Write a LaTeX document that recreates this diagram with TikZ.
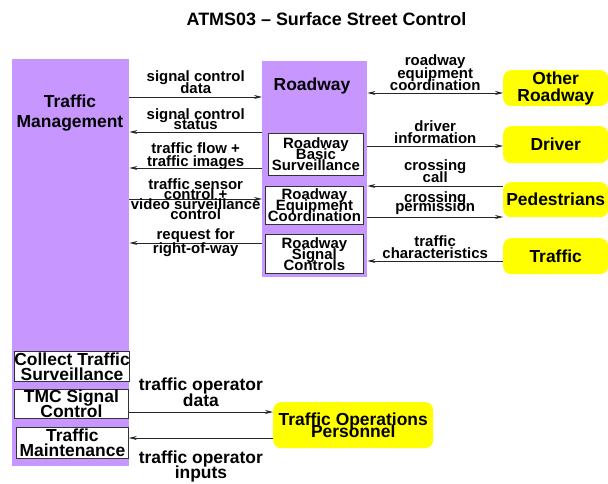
\documentclass[tikz,border=0pt]{standalone}
\usepackage{fontspec}
\setmainfont{Liberation Sans}
\usetikzlibrary{arrows.meta}

\definecolor{sysviolet}{RGB}{200,150,255}
\definecolor{termyellow}{RGB}{255,255,0}

% let stacked lines sit closer than their glyphs allow
\lineskiplimit=-50pt

\tikzset{
	sys/.style={fill=sysviolet, inner sep=0pt, anchor=north west},
	sub/.style={draw=black!80, fill=white, line width=0.8pt, inner sep=0pt, anchor=north west, align=center, font=\bfseries\fontsize{15}{11}\selectfont},
	subbig/.style={sub, font=\bfseries\fontsize{17.5}{15}\selectfont},
	term/.style={fill=termyellow, rounded corners=8bp, inner sep=0pt, anchor=north west, align=center, font=\bfseries\fontsize{17.5}{17}\selectfont},
	flow/.style={draw=black!85, line width=0.8pt, -{Stealth[length=8bp,width=4bp]}},
	lbl/.style={inner sep=0pt, align=center, font=\bfseries\fontsize{15}{12.5}\selectfont},
	lblbig/.style={lbl, font=\bfseries\fontsize{17.5}{15.5}\selectfont},
}

\begin{document}
\begin{tikzpicture}[x=1bp,y=-1bp]
	
	\useasboundingbox (0,0) rectangle (608,484);
	
	\node[font=\bfseries\fontsize{18}{18}\selectfont] (title) at (326.5,19) {ATMS03 -- Surface Street Control};
	
	% subsystems
	\node[sys, minimum width=117bp, minimum height=407bp] (tm) at (12,59) {};
	\node[font=\bfseries\fontsize{17.5}{20}\selectfont, align=center] (tmlbl) at (70,113) {Traffic\\Management};
	\node[sys, minimum width=105bp, minimum height=216bp] (rw) at (262,61) {};
	\node[font=\bfseries\fontsize{17.5}{17}\selectfont] (rwlbl) at (312,86) {Roadway};
	
	\node[sub, minimum width=95bp, minimum height=42bp] (rbs) at (268,133) {Roadway\\Basic\\Surveillance};
	\node[sub, minimum width=98bp, minimum height=38bp] (rec) at (265,186) {Roadway\\Equipment\\Coordination};
	\node[sub, minimum width=98bp, minimum height=39bp] (rsc) at (265,234) {Roadway\\Signal\\Controls};
	
	\node[subbig, minimum width=115bp, minimum height=30bp] (cts) at (14,351) {Collect Traffic\\Surveillance};
	\node[subbig, minimum width=114bp, minimum height=29bp] (tsc) at (14,389) {TMC Signal\\Control};
	\node[subbig, minimum width=112bp, minimum height=31bp] (tmn) at (16,427) {Traffic\\Maintenance};
	
	% terminators
	\node[term, minimum width=105bp, minimum height=36bp] (oth) at (503,70) {Other\\Roadway};
	\node[term, minimum width=105bp, minimum height=37bp] (drv) at (503,126) {Driver};
	\node[term, minimum width=105bp, minimum height=35bp] (ped) at (503,182) {Pedestrians};
	\node[term, minimum width=105bp, minimum height=36bp] (trf) at (503,238) {Traffic};
	\node[term, minimum width=160bp, minimum height=46bp, font=\bfseries\fontsize{17.5}{12}\selectfont] (top) at (273,402) {Traffic Operations\\Personnel};
	
	% flow levels
	\coordinate (f1) at (0,97);
	\coordinate (f2) at (0,132);
	\coordinate (f3) at (0,168);
	\coordinate (f4) at (0,199);
	\coordinate (f5) at (0,243);
	\coordinate (g1) at (0,93);
	\coordinate (g2) at (0,146);
	\coordinate (g3) at (0,186);
	\coordinate (g4) at (0,217);
	\coordinate (g5) at (0,261);
	\coordinate (h1) at (0,412);
	\coordinate (h2) at (0,438);
	
	% flows
	\draw[flow] (tm.east |- f1) -- (rw.west |- f1) node[lbl, midway, above=3bp] (l1) {signal control\\data};
	\draw[flow] (rw.west |- f2) -- (tm.east |- f2) node[lbl, midway, above=2bp, font=\bfseries\fontsize{15}{10}\selectfont] (l2) {signal control\\status};
	\draw[flow] (rw.west |- f3) -- (tm.east |- f3) node[lbl, midway, above=-2bp] (l3) {traffic flow +\\traffic images};
	\draw[flow] (tm.east |- f4) -- (rw.west |- f4) node[lbl, midway, font=\bfseries\fontsize{15}{10}\selectfont] (l4) {traffic sensor\\control +\\video surveillance\\control};
	\draw[flow] (rw.west |- f5) -- (tm.east |- f5) node[lbl, midway, font=\bfseries\fontsize{15}{14}\selectfont] (l5) {request for\\right-of-way};
	
	\draw[flow, {Stealth[length=8bp,width=4bp]}-{Stealth[length=8bp,width=4bp]}] (rw.east |- g1) -- (oth.west |- g1) node[lbl, midway, above=2bp] (m1) {roadway\\equipment\\coordination};
	\draw[flow] (rw.east |- g2) -- (drv.west |- g2) node[lbl, midway, above=2bp] (m2) {driver\\information};
	\draw[flow] (ped.west |- g3) -- (rw.east |- g3) node[lbl, midway, above=3bp] (m3) {crossing\\call};
	\draw[flow] (rw.east |- g4) -- (ped.west |- g4) node[lbl, midway, above=2bp, font=\bfseries\fontsize{15}{9}\selectfont] (m4) {crossing\\permission};
	\draw[flow] (trf.west |- g5) -- (rw.east |- g5) node[lbl, midway, above=2bp] (m5) {traffic\\characteristics};
	
	\draw[flow] (tsc.east |- h1) -- (top.west |- h1) node[lblbig, midway, above=5bp] (n1) {traffic operator\\data};
	\draw[flow] (top.west |- h2) -- (tmn.east |- h2) node[lblbig, midway, below=12bp] (n2) {traffic operator\\inputs};
	
\end{tikzpicture}
\end{document}
